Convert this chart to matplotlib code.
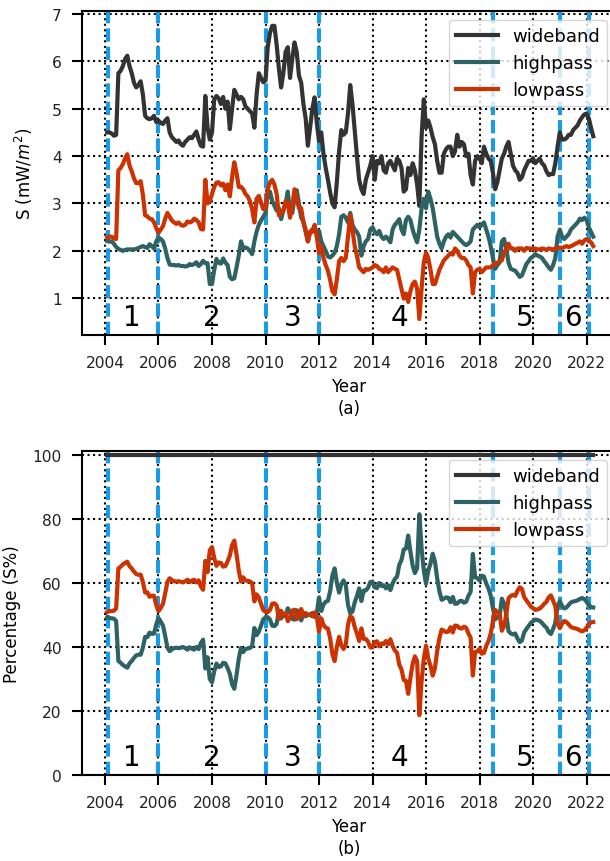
import numpy as np
import matplotlib
matplotlib.use("Agg")
import matplotlib.pyplot as plt
import matplotlib.transforms as mtransforms

# Monthly samples, first value at Feb 2004 (one row per calendar year)
start_year = 2004

wideband = [
    4.50, 4.50, 4.48, 4.43, 4.45, 5.75, 5.80, 5.90, 6.05, 6.12, 5.90,
    5.75, 5.55, 5.45, 5.50, 5.58, 5.30, 4.85, 4.80, 4.78, 4.80, 4.85, 4.72,
    4.75, 4.70, 4.68, 4.75, 4.80, 4.50, 4.40, 4.35, 4.30, 4.33, 4.25, 4.22,
    4.30, 4.35, 4.40, 4.38, 4.45, 4.52, 4.35, 4.22, 4.20, 5.27, 4.60, 4.35,
    4.50, 5.20, 5.27, 5.22, 5.10, 5.25, 5.00, 5.15, 4.57, 5.00, 5.40, 5.30,
    5.20, 5.25, 5.20, 5.05, 5.00, 4.95, 4.90, 4.60, 5.30, 5.75, 5.65, 5.56,
    5.60, 6.30, 6.60, 6.75, 6.75, 6.35, 5.85, 5.45, 5.75, 6.20, 6.30, 5.65,
    6.05, 6.40, 6.20, 5.70, 5.55, 5.10, 4.80, 4.22, 4.60, 5.00, 5.24, 4.70,
    4.32, 4.50, 4.05, 3.75, 3.50, 3.23, 3.00, 2.92, 3.45, 4.10, 4.55, 4.45,
    4.50, 4.90, 5.50, 5.10, 4.55, 4.00, 3.50, 3.30, 3.20, 3.50, 3.65, 3.80,
    4.00, 3.50, 3.90, 3.85, 4.00, 3.70, 3.65, 3.85, 3.90, 3.80, 3.70, 3.95,
    3.90, 3.75, 3.25, 3.30, 3.75, 3.60, 3.85, 3.70, 3.40, 2.95, 4.40, 5.20,
    4.60, 4.75, 4.60, 4.40, 4.25, 3.90, 3.65, 3.65, 4.05, 4.15, 4.20, 4.20,
    4.00, 4.10, 4.45, 4.20, 4.30, 4.25, 4.00, 4.05, 3.60, 3.40, 3.90, 4.00,
    3.95, 3.85, 4.20, 4.05, 3.95, 3.90, 3.65, 3.30, 3.45, 3.70, 3.95, 4.05,
    4.20, 4.30, 4.05, 3.80, 3.70, 3.65, 3.50, 3.55, 3.70, 3.80, 3.90, 3.90,
    3.95, 3.85, 3.90, 3.95, 3.85, 3.80, 3.68, 3.60, 3.62, 3.62, 3.85, 4.20,
    4.50, 4.35, 4.35, 4.38, 4.45, 4.45, 4.55, 4.60, 4.65, 4.75, 4.82, 4.88,
    4.90, 4.80, 4.60, 4.42,
]

highpass = [
    2.21, 2.20, 2.20, 2.15, 2.08, 2.04, 2.02, 2.00, 2.02, 2.03, 2.03,
    2.03, 2.03, 2.04, 2.06, 2.08, 2.10, 2.08, 2.06, 2.14, 2.10, 2.05, 2.20,
    2.28, 2.25, 2.20, 2.05, 1.85, 1.71, 1.70, 1.70, 1.69, 1.70, 1.68, 1.68,
    1.67, 1.68, 1.72, 1.70, 1.72, 1.76, 1.68, 1.72, 1.79, 1.74, 1.74, 1.30,
    1.30, 1.60, 1.83, 1.75, 1.73, 1.84, 1.75, 1.70, 1.45, 1.40, 1.42, 1.65,
    1.90, 2.20, 2.05, 2.07, 2.05, 2.00, 1.93, 2.20, 2.40, 2.55, 2.64, 2.72,
    2.80, 3.20, 3.25, 3.05, 2.95, 2.85, 2.90, 2.67, 2.85, 3.00, 3.25, 2.80,
    2.80, 3.10, 3.28, 3.00, 2.70, 2.62, 2.40, 2.20, 2.40, 2.45, 2.48, 2.35,
    2.42, 2.20, 2.10, 2.00, 1.88, 1.86, 1.90, 1.96, 2.10, 2.35, 2.72, 2.75,
    2.70, 2.60, 2.80, 2.55, 2.45, 2.40, 2.30, 1.90, 2.10, 2.20, 2.25, 2.45,
    2.50, 2.40, 2.35, 2.42, 2.30, 2.25, 2.30, 2.25, 2.18, 2.45, 2.55, 2.60,
    2.67, 2.45, 2.35, 2.65, 2.72, 2.65, 2.45, 2.30, 2.18, 2.45, 2.90, 3.10,
    2.90, 3.25, 3.10, 2.90, 2.60, 2.30, 2.15, 2.05, 2.20, 2.30, 2.35, 2.28,
    2.40, 2.35, 2.30, 2.25, 2.20, 2.15, 2.12, 2.15, 2.20, 2.45, 2.50, 2.55,
    2.50, 2.55, 2.60, 2.45, 2.30, 2.10, 1.85, 1.62, 1.70, 1.75, 2.20, 2.25,
    2.05, 1.75, 1.62, 1.60, 1.58, 1.52, 1.45, 1.48, 1.60, 1.72, 1.78, 1.85,
    1.88, 1.93, 1.90, 1.88, 1.85, 1.78, 1.72, 1.65, 1.60, 1.70, 1.85, 2.30,
    2.45, 2.30, 2.25, 2.30, 2.35, 2.45, 2.50, 2.55, 2.60, 2.68, 2.65, 2.70,
    2.65, 2.50, 2.40, 2.30,
]

lowpass = [
    2.28, 2.30, 2.30, 2.26, 2.25, 3.70, 3.75, 3.83, 3.95, 4.04, 3.80,
    3.68, 3.53, 3.43, 3.43, 3.47, 3.18, 2.75, 2.73, 2.68, 2.67, 2.60, 2.48,
    2.38, 2.45, 2.52, 2.68, 2.80, 2.72, 2.64, 2.60, 2.57, 2.60, 2.55, 2.53,
    2.55, 2.62, 2.60, 2.62, 2.68, 2.65, 2.60, 2.46, 2.45, 3.50, 3.00, 3.05,
    3.20, 3.35, 3.44, 3.45, 3.38, 3.42, 3.28, 3.40, 3.15, 3.55, 3.87, 3.65,
    3.35, 3.35, 3.30, 3.20, 3.15, 3.05, 2.88, 2.60, 3.10, 3.16, 3.02, 2.88,
    2.90, 3.30, 3.45, 3.50, 3.40, 3.20, 2.75, 2.80, 2.85, 3.05, 3.00, 2.70,
    2.95, 3.30, 3.10, 2.90, 2.90, 2.60, 2.45, 2.20, 2.40, 2.40, 2.55, 2.30,
    1.95, 2.10, 1.85, 1.70, 1.58, 1.38, 1.15, 1.08, 1.40, 1.78, 1.85, 1.78,
    1.85, 2.30, 2.75, 2.45, 2.10, 1.90, 1.65, 1.60, 1.55, 1.62, 1.60, 1.62,
    1.65, 1.70, 1.68, 1.62, 1.60, 1.55, 1.65, 1.55, 1.60, 1.65, 1.62, 1.60,
    1.40, 1.20, 0.99, 1.10, 0.92, 1.15, 1.30, 1.35, 1.20, 0.56, 1.20, 1.76,
    1.96, 1.85, 1.60, 1.30, 1.30, 1.45, 1.60, 1.70, 1.80, 1.85, 1.90, 1.95,
    1.92, 2.05, 2.00, 1.90, 1.85, 1.85, 1.80, 1.70, 1.65, 1.10, 1.55, 1.60,
    1.62, 1.55, 1.60, 1.65, 1.65, 1.65, 1.70, 1.72, 1.75, 1.78, 1.80, 1.95,
    2.05, 2.15, 2.05, 2.05, 2.00, 2.05, 2.05, 2.05, 2.00, 2.06, 2.05, 2.05,
    2.04, 2.05, 2.03, 2.03, 2.05, 2.04, 2.02, 2.05, 2.04, 2.03, 2.05, 2.06,
    2.07, 2.06, 2.08, 2.10, 2.08, 2.10, 2.12, 2.15, 2.17, 2.20, 2.15, 2.22,
    2.25, 2.22, 2.18, 2.10,
]

# Period boundaries and their labels
period_bounds = [2004.1, 2006.0, 2010.0, 2012.0, 2018.5, 2021.0, 2022.1]
period_labels = ["1", "2", "3", "4", "5", "6"]
period_label_x = [2005.0, 2008.0, 2011.0, 2015.0, 2019.7, 2021.5]
year_ticks = list(range(2004, 2023, 2))

series_names = ["wideband", "highpass", "lowpass"]
series_colors = ["#333333", "#2f6363", "#cc3300"]
bound_color = "#1a9be8"

t = start_year + (np.arange(len(wideband)) + 1) / 12.0
wb = np.array(wideband)
hp = np.array(highpass)
lp = np.array(lowpass)
total = hp + lp
pct = [100.0 * wb / wb, 100.0 * hp / total, 100.0 * lp / total]

plt.rcParams["font.family"] = ["DejaVu Sans"]

fig = plt.figure(figsize=(6.10, 8.62), dpi=100)
left, width = 0.1344, 0.8754
ax1 = fig.add_axes([left, 0.6106, width, 0.3758])
ax2 = fig.add_axes([left, 0.1001, width, 0.3759])


def style_axes(ax, yticks, ylim, ylabel, tag, ylabelpad):
    ax.set_xlim(2003.14, 2023.1)
    ax.set_ylim(*ylim)
    ax.set_xticks(year_ticks)
    ax.set_yticks(yticks)
    ax.grid(True, linestyle=":", color="black", linewidth=1.5)
    ax.set_axisbelow(True)
    for b in period_bounds:
        ax.axvline(b, color=bound_color, linewidth=3, linestyle=(0, (3.2, 1.2)), zorder=2)
    trans = mtransforms.blended_transform_factory(ax.transData, ax.transAxes)
    for x, lab in zip(period_label_x, period_labels):
        ax.text(x, 0.055, lab, transform=trans, ha="center", va="center", fontsize=20, zorder=4)
    for s in ax.spines.values():
        s.set_linewidth(1.5)
        s.set_color("black")
    ax.tick_params(direction="out", length=7.5, width=1.5, pad=7, labelsize=11.2,
                   colors="black", labelcolor="#222222")
    ax.set_ylabel(ylabel, fontsize=12, labelpad=ylabelpad)
    ax.set_xlabel("Year\n" + tag, fontsize=12, labelpad=5, linespacing=1.3)
    ax.legend(loc="upper right", fontsize=13, handlelength=2.3)


for y, name, c in zip([wb, hp, lp], series_names, series_colors):
    ax1.plot(t, y, color=c, linewidth=3, label=name, zorder=3)
style_axes(ax1, [1, 2, 3, 4, 5, 6, 7], (0.23, 7.07), r"S (mW/$m^2$)", "(a)", 12)

for y, name, c in zip(pct, series_names, series_colors):
    ax2.plot(t, y, color=c, linewidth=3, label=name, zorder=3)
style_axes(ax2, [0, 20, 40, 60, 80, 100], (0, 101.25), "Percentage (S%)", "(b)", 8)

fig.savefig("out.png", dpi=100)
